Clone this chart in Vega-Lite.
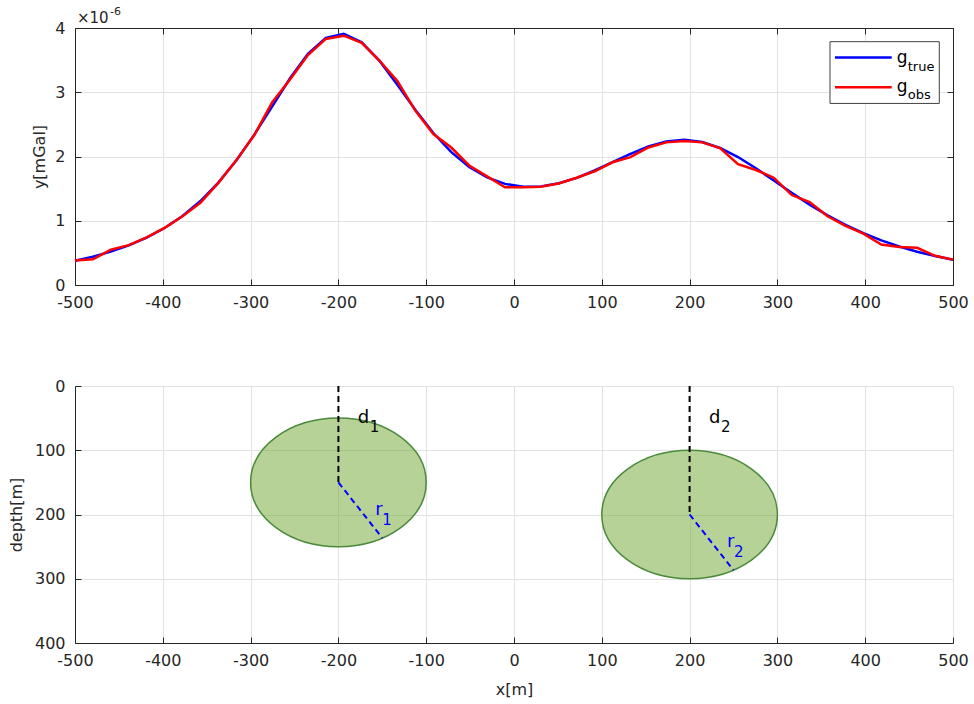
{
  "$schema": "https://vega.github.io/schema/vega-lite/v6.json",
  "padding": {"left": 8, "top": 6, "right": 4, "bottom": 4},
  "background": "white",
  "spacing": 68,
  "config": {
    "font": "DejaVu Sans",
    "view": {"stroke": null},
    "text": {"font": "DejaVu Sans"},
    "axis": {
      "labelFont": "DejaVu Sans", "labelFontSize": 16, "labelColor": "#262626",
      "titleFont": "DejaVu Sans", "titleFontSize": 16, "titleFontWeight": "normal", "titleColor": "#262626",
      "domainColor": "#262626", "tickColor": "#262626", "gridColor": "#e2e2e2",
      "tickSize": -6, "labelPadding": 16, "labelFlush": false, "labelOverlap": false, "labelExpr": "datum.value + ''"
    },
    "axisX": {"labelPadding": 15}
  },
  "datasets": {
    "grav": [
      {"x": -500, "g_true": 0.377, "g_obs": 0.38},
      {"x": -479.592, "g_true": 0.441, "g_obs": 0.40},
      {"x": -459.184, "g_true": 0.519, "g_obs": 0.55},
      {"x": -438.776, "g_true": 0.617, "g_obs": 0.62},
      {"x": -418.367, "g_true": 0.737, "g_obs": 0.74},
      {"x": -397.959, "g_true": 0.887, "g_obs": 0.89},
      {"x": -377.551, "g_true": 1.074, "g_obs": 1.07},
      {"x": -357.143, "g_true": 1.307, "g_obs": 1.28},
      {"x": -336.735, "g_true": 1.593, "g_obs": 1.59},
      {"x": -316.327, "g_true": 1.937, "g_obs": 1.94},
      {"x": -295.918, "g_true": 2.337, "g_obs": 2.33},
      {"x": -275.51, "g_true": 2.776, "g_obs": 2.84},
      {"x": -255.102, "g_true": 3.217, "g_obs": 3.20},
      {"x": -234.694, "g_true": 3.597, "g_obs": 3.58},
      {"x": -214.286, "g_true": 3.846, "g_obs": 3.83},
      {"x": -193.878, "g_true": 3.910, "g_obs": 3.88},
      {"x": -173.469, "g_true": 3.777, "g_obs": 3.77},
      {"x": -153.061, "g_true": 3.488, "g_obs": 3.49},
      {"x": -132.653, "g_true": 3.114, "g_obs": 3.17},
      {"x": -112.245, "g_true": 2.724, "g_obs": 2.71},
      {"x": -91.837, "g_true": 2.366, "g_obs": 2.35},
      {"x": -71.429, "g_true": 2.067, "g_obs": 2.14},
      {"x": -51.02, "g_true": 1.837, "g_obs": 1.86},
      {"x": -30.612, "g_true": 1.675, "g_obs": 1.69},
      {"x": -10.204, "g_true": 1.574, "g_obs": 1.52},
      {"x": 10.204, "g_true": 1.530, "g_obs": 1.52},
      {"x": 30.612, "g_true": 1.535, "g_obs": 1.53},
      {"x": 51.02, "g_true": 1.583, "g_obs": 1.58},
      {"x": 71.429, "g_true": 1.668, "g_obs": 1.67},
      {"x": 91.837, "g_true": 1.782, "g_obs": 1.77},
      {"x": 112.245, "g_true": 1.911, "g_obs": 1.91},
      {"x": 132.653, "g_true": 2.042, "g_obs": 1.99},
      {"x": 153.061, "g_true": 2.156, "g_obs": 2.14},
      {"x": 173.469, "g_true": 2.234, "g_obs": 2.22},
      {"x": 193.878, "g_true": 2.260, "g_obs": 2.24},
      {"x": 214.286, "g_true": 2.226, "g_obs": 2.22},
      {"x": 234.694, "g_true": 2.133, "g_obs": 2.13},
      {"x": 255.102, "g_true": 1.992, "g_obs": 1.88},
      {"x": 275.51, "g_true": 1.817, "g_obs": 1.79},
      {"x": 295.918, "g_true": 1.626, "g_obs": 1.67},
      {"x": 316.327, "g_true": 1.434, "g_obs": 1.40},
      {"x": 336.735, "g_true": 1.251, "g_obs": 1.29},
      {"x": 357.143, "g_true": 1.084, "g_obs": 1.07},
      {"x": 377.551, "g_true": 0.935, "g_obs": 0.92},
      {"x": 397.959, "g_true": 0.806, "g_obs": 0.80},
      {"x": 418.367, "g_true": 0.694, "g_obs": 0.63},
      {"x": 438.776, "g_true": 0.599, "g_obs": 0.59},
      {"x": 459.184, "g_true": 0.518, "g_obs": 0.58},
      {"x": 479.592, "g_true": 0.450, "g_obs": 0.455},
      {"x": 500, "g_true": 0.392, "g_obs": 0.395}
    ],
    "legendbox": [{"x1": 359.9, "x2": 484.4, "y1": 2.826, "y2": 3.787}],
    "legend": [
      {"series": "g_true", "x1": 365.6, "x2": 430.2, "y": 3.542, "tx": 435.9, "ty": 3.452, "label": "g", "sub": "true"},
      {"series": "g_obs", "x1": 365.6, "x2": 430.2, "y": 3.076, "tx": 435.9, "ty": 3.008, "label": "g", "sub": "obs"}
    ],
    "scalenote": [{"base": "×10", "exponent": "-6", "x": -500, "y": 4}],
    "bodies": [{"name": "body 1", "cx": -200, "cz": 150}, {"name": "body 2", "cx": 200, "cz": 200}],
    "dlines": [{"x": -200, "z1": 0, "z2": 150}, {"x": 200, "z1": 0, "z2": 200}],
    "rlines": [{"x1": -200, "z1": 150, "x2": -150, "z2": 236.6}, {"x1": 200, "z1": 200, "x2": 250, "z2": 286.6}],
    "labels": [
      {"kind": "d", "label": "d", "sub": "1", "x": -178, "z": 57},
      {"kind": "d", "label": "d", "sub": "2", "x": 222, "z": 57},
      {"kind": "r", "label": "r", "sub": "1", "x": -158, "z": 201},
      {"kind": "r", "label": "r", "sub": "2", "x": 242.6, "z": 250.6}
    ]
  },
  "vconcat": [
    {
      "width": 878, "height": 257,
      "resolve": {"axis": {"x": "independent", "y": "independent"}},
      "layer": [
        {
          "data": {"name": "grav"},
          "mark": {"type": "line", "strokeWidth": 2.5},
          "encoding": {
            "x": {"field": "x", "type": "quantitative", "scale": {"domain": [-500, 500], "nice": false},
                  "axis": {"values": [-500, -400, -300, -200, -100, 0, 100, 200, 300, 400, 500], "grid": true, "title": null}},
            "y": {"field": "g_true", "type": "quantitative", "scale": {"domain": [0, 4], "nice": false},
                  "axis": {"values": [0, 1, 2, 3, 4], "grid": true, "title": "y[mGal]", "titlePadding": 7}},
            "color": {"datum": "g_true", "scale": {"domain": ["g_true", "g_obs"], "range": ["#0000ff", "#ff0000"]}, "legend": null}
          }
        },
        {
          "data": {"name": "grav"},
          "mark": {"type": "line", "strokeWidth": 2.5},
          "encoding": {
            "x": {"field": "x", "type": "quantitative", "scale": {"domain": [-500, 500], "nice": false},
                  "axis": {"orient": "top", "values": [-500, -400, -300, -200, -100, 0, 100, 200, 300, 400, 500], "labels": false, "grid": false, "title": null}},
            "y": {"field": "g_obs", "type": "quantitative", "scale": {"domain": [0, 4], "nice": false},
                  "axis": {"orient": "right", "values": [0, 1, 2, 3, 4], "labels": false, "grid": false, "title": null}},
            "color": {"datum": "g_obs", "legend": null}
          }
        },
        {
          "data": {"name": "legendbox"},
          "mark": {"type": "rect", "fill": "white", "stroke": "#404040", "strokeWidth": 1},
          "encoding": {
            "x": {"field": "x1", "type": "quantitative", "axis": null},
            "x2": {"field": "x2"},
            "y": {"field": "y1", "type": "quantitative", "axis": null},
            "y2": {"field": "y2"}
          }
        },
        {
          "data": {"name": "legend"},
          "mark": {"type": "rule", "strokeWidth": 2.5},
          "encoding": {
            "x": {"field": "x1", "type": "quantitative", "axis": null},
            "x2": {"field": "x2"},
            "y": {"field": "y", "type": "quantitative", "axis": null},
            "color": {"field": "series", "type": "nominal", "legend": null}
          }
        },
        {
          "data": {"name": "legend"},
          "mark": {"type": "text", "align": "left", "baseline": "alphabetic", "fontSize": 17, "color": "#000000"},
          "encoding": {
            "x": {"field": "tx", "type": "quantitative", "axis": null},
            "y": {"field": "ty", "type": "quantitative", "axis": null},
            "text": {"field": "label"}
          }
        },
        {
          "data": {"name": "legend"},
          "mark": {"type": "text", "align": "left", "baseline": "alphabetic", "fontSize": 13, "dx": 11, "dy": 7.5, "color": "#000000"},
          "encoding": {
            "x": {"field": "tx", "type": "quantitative", "axis": null},
            "y": {"field": "ty", "type": "quantitative", "axis": null},
            "text": {"field": "sub"}
          }
        },
        {
          "data": {"name": "scalenote"},
          "mark": {"type": "text", "align": "left", "baseline": "alphabetic", "fontSize": 15, "dx": 2, "dy": -5, "color": "#262626", "clip": false},
          "encoding": {
            "x": {"field": "x", "type": "quantitative", "axis": null},
            "y": {"field": "y", "type": "quantitative", "axis": null},
            "text": {"field": "base"}
          }
        },
        {
          "data": {"name": "scalenote"},
          "mark": {"type": "text", "align": "left", "baseline": "alphabetic", "fontSize": 11, "dx": 35, "dy": -13, "color": "#262626", "clip": false},
          "encoding": {
            "x": {"field": "x", "type": "quantitative", "axis": null},
            "y": {"field": "y", "type": "quantitative", "axis": null},
            "text": {"field": "exponent"}
          }
        }
      ]
    },
    {
      "width": 878, "height": 257,
      "layer": [
        {
          "data": {"name": "bodies"},
          "mark": {"type": "point", "shape": "M -1 0 C -1 -0.4042 -0.5523 -0.7318 0 -0.7318 C 0.5523 -0.7318 1 -0.4042 1 0 C 1 0.4042 0.5523 0.7318 0 0.7318 C -0.5523 0.7318 -1 0.4042 -1 0 Z",
                   "size": 30835, "filled": true, "fill": "#6ea62d", "fillOpacity": 0.5, "opacity": 1, "stroke": "#4a8a3a", "strokeOpacity": 1, "strokeWidth": 1.5},
          "encoding": {
            "x": {"field": "cx", "type": "quantitative", "scale": {"domain": [-500, 500], "nice": false},
                  "axis": {"values": [-500, -400, -300, -200, -100, 0, 100, 200, 300, 400, 500], "grid": true, "title": "x[m]", "titlePadding": 13}},
            "y": {"field": "cz", "type": "quantitative", "scale": {"domain": [0, 400], "nice": false, "reverse": true},
                  "axis": {"values": [0, 100, 200, 300, 400], "grid": true, "title": "depth[m]", "titlePadding": 10}}
          }
        },
        {
          "data": {"name": "dlines"},
          "mark": {"type": "rule", "color": "#000000", "strokeWidth": 2, "strokeDash": [6, 4]},
          "encoding": {
            "x": {"field": "x", "type": "quantitative"},
            "y": {"field": "z1", "type": "quantitative"},
            "y2": {"field": "z2"}
          }
        },
        {
          "data": {"name": "rlines"},
          "mark": {"type": "rule", "color": "#0000ff", "strokeWidth": 2, "strokeDash": [6, 4]},
          "encoding": {
            "x": {"field": "x1", "type": "quantitative"},
            "x2": {"field": "x2"},
            "y": {"field": "z1", "type": "quantitative"},
            "y2": {"field": "z2"}
          }
        },
        {
          "data": {"name": "labels"},
          "transform": [{"filter": "datum.kind == 'd'"}],
          "mark": {"type": "text", "align": "left", "baseline": "alphabetic", "fontSize": 18, "color": "#000000"},
          "encoding": {
            "x": {"field": "x", "type": "quantitative"},
            "y": {"field": "z", "type": "quantitative"},
            "text": {"field": "label"}
          }
        },
        {
          "data": {"name": "labels"},
          "transform": [{"filter": "datum.kind == 'd'"}],
          "mark": {"type": "text", "align": "left", "baseline": "alphabetic", "fontSize": 15, "dx": 12, "dy": 9, "color": "#000000"},
          "encoding": {
            "x": {"field": "x", "type": "quantitative"},
            "y": {"field": "z", "type": "quantitative"},
            "text": {"field": "sub"}
          }
        },
        {
          "data": {"name": "labels"},
          "transform": [{"filter": "datum.kind == 'r'"}],
          "mark": {"type": "text", "align": "left", "baseline": "alphabetic", "fontSize": 18, "color": "#0000ff"},
          "encoding": {
            "x": {"field": "x", "type": "quantitative"},
            "y": {"field": "z", "type": "quantitative"},
            "text": {"field": "label"}
          }
        },
        {
          "data": {"name": "labels"},
          "transform": [{"filter": "datum.kind == 'r'"}],
          "mark": {"type": "text", "align": "left", "baseline": "alphabetic", "fontSize": 15, "dx": 7, "dy": 10, "color": "#0000ff"},
          "encoding": {
            "x": {"field": "x", "type": "quantitative"},
            "y": {"field": "z", "type": "quantitative"},
            "text": {"field": "sub"}
          }
        }
      ]
    }
  ]
}
